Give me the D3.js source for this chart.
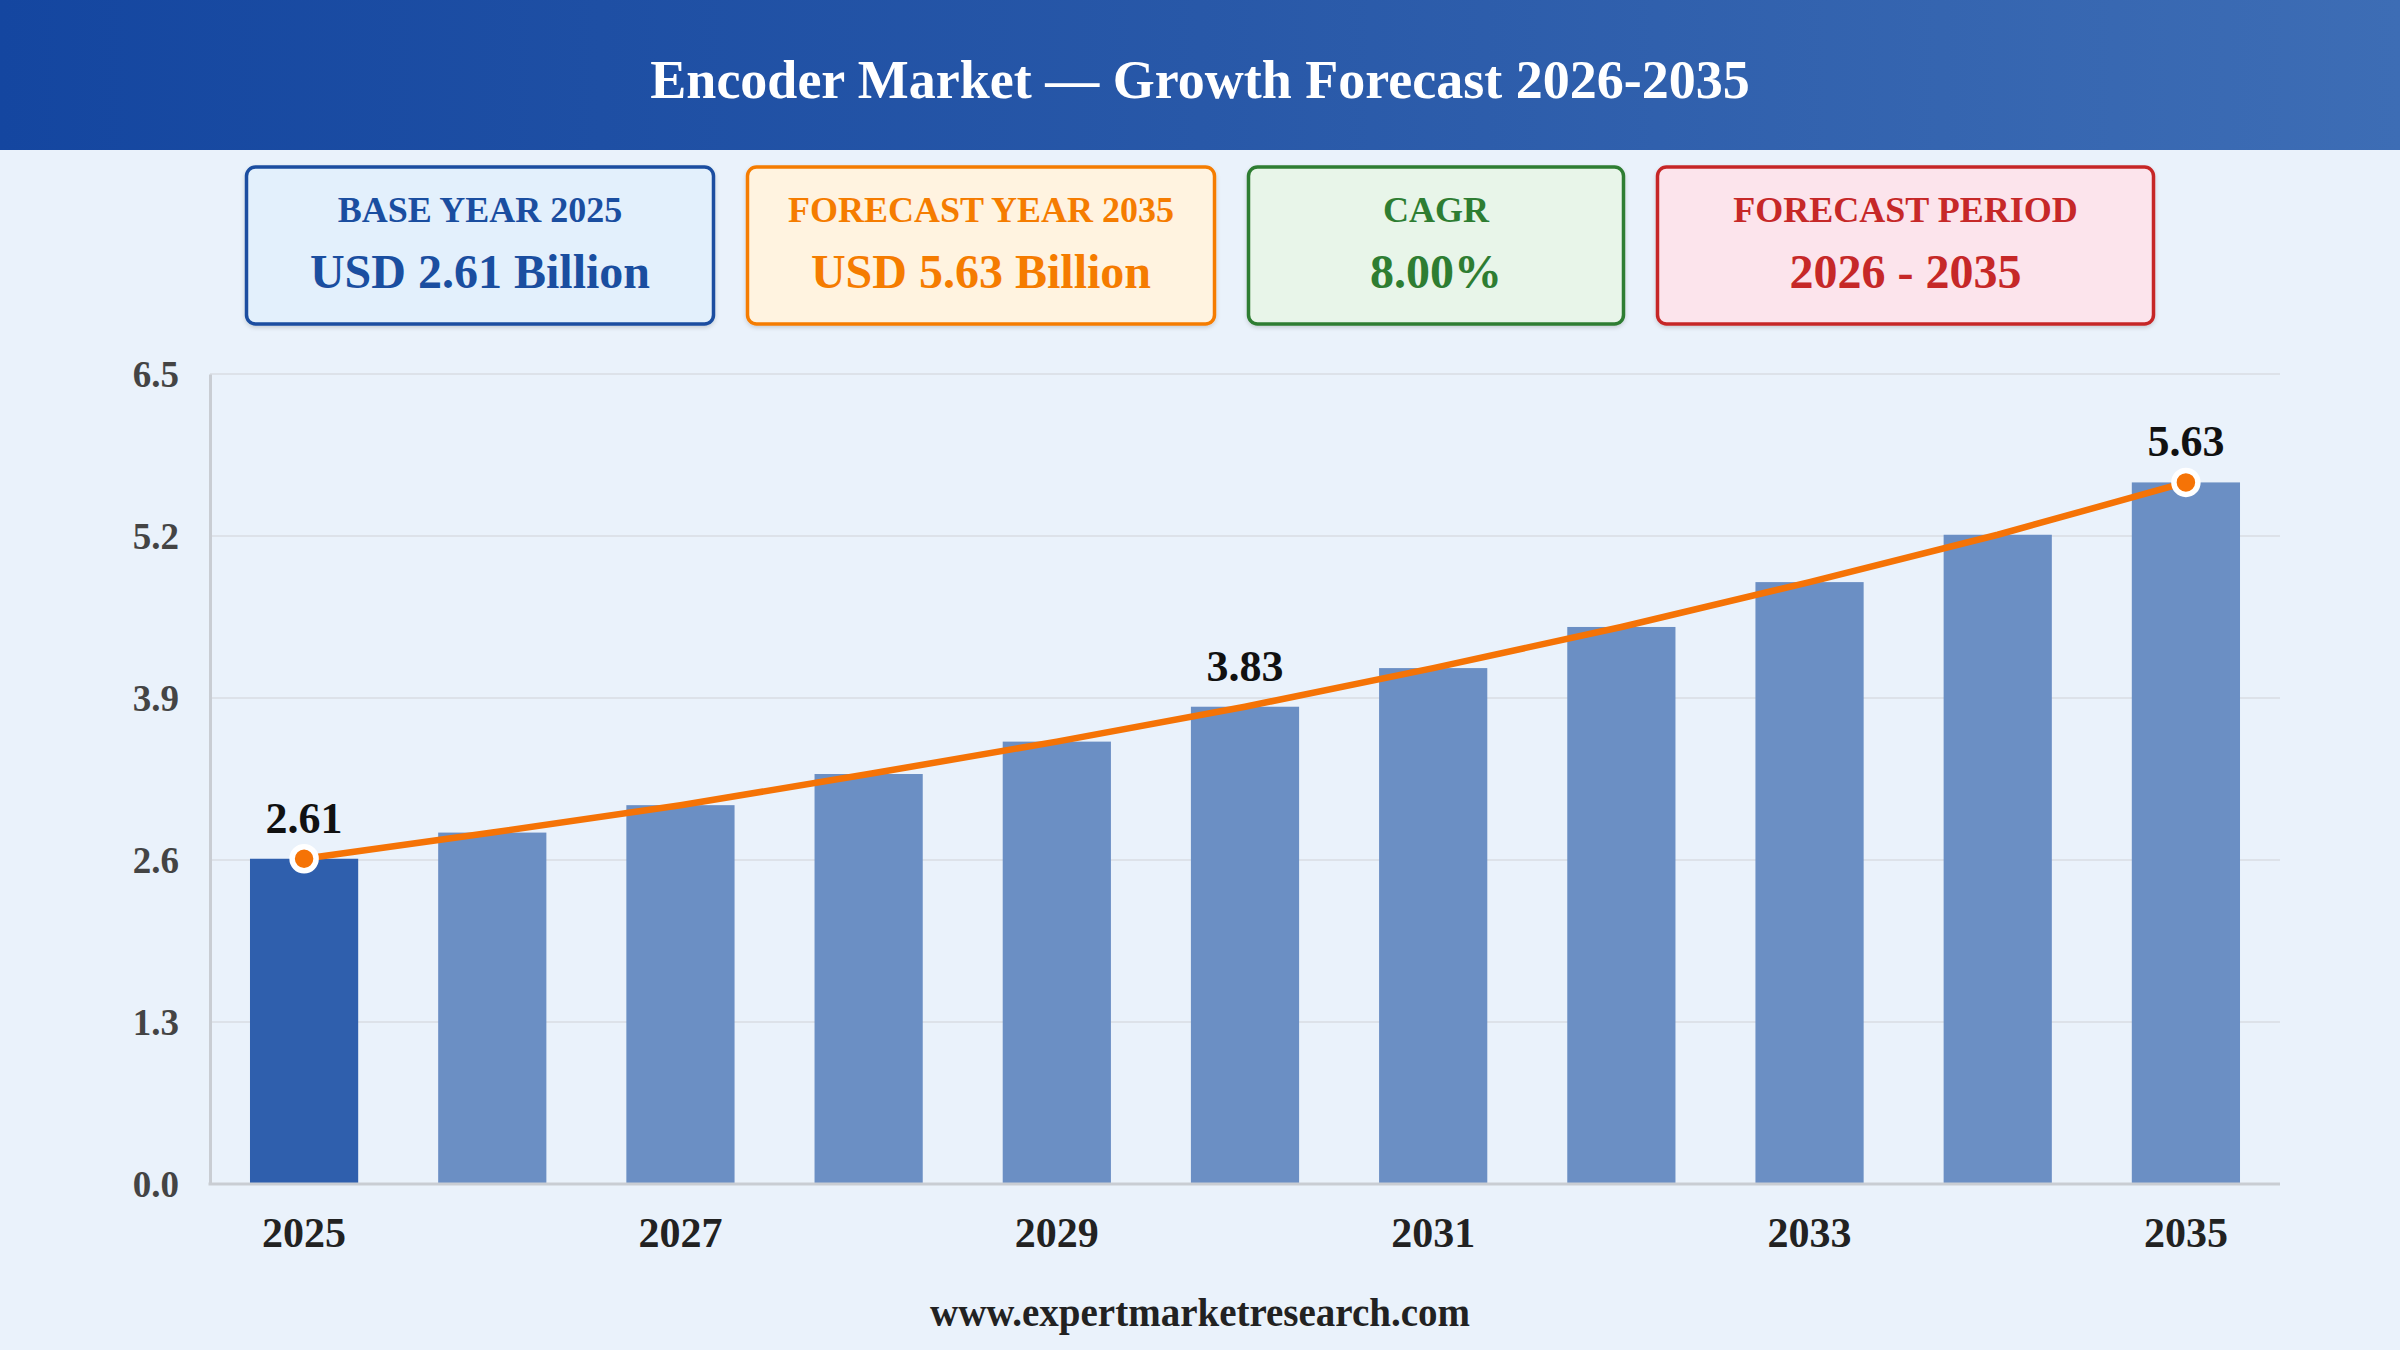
<!DOCTYPE html>
<html>
<head>
<meta charset="utf-8">
<script src="https://cdn.jsdelivr.net/npm/d3@7"></script>
<style>
html,body{margin:0;padding:0;background:#eaf2fb;}
svg{display:block;}
text{font-family:"Liberation Serif","Times New Roman",serif;font-weight:bold;}
</style>
</head>
<body>
<svg id="chart" width="2400" height="1350"></svg>
<script>
// ---- data ----
const title = "Encoder Market \u2014 Growth Forecast 2026-2035";
const years = [2025, 2026, 2027, 2028, 2029, 2030, 2031, 2032, 2033, 2034, 2035];
const values = [2.61, 2.82, 3.04, 3.29, 3.55, 3.83, 4.14, 4.47, 4.83, 5.21, 5.63];
const yTicks = [0, 1.3, 2.6, 3.9, 5.2, 6.5];
const xTickLabels = [2025, 2027, 2029, 2031, 2033, 2035];
const labeledYears = [2025, 2030, 2035];
const markerYears = [2025, 2035];
const highlightYear = 2025;
const cardLabels = ["BASE YEAR 2025", "FORECAST YEAR 2035", "CAGR", "FORECAST PERIOD"];
const cardValues = ["USD 2.61 Billion", "USD 5.63 Billion", "8.00%", "2026 - 2035"];
const footer = "www.expertmarketresearch.com";

// ---- styles ----
const cardStyles = [
  {w: 467, stroke: "#1a4ea0", fill: "#e3f0fc", color: "#1a4ea0"},
  {w: 467, stroke: "#f57c00", fill: "#fff3e0", color: "#f57c00"},
  {w: 375, stroke: "#2e7d32", fill: "#e8f5e9", color: "#2e7d32"},
  {w: 496, stroke: "#c62828", fill: "#fce4ec", color: "#c62828"}
];

const W = 2400, H = 1350;
const svg = d3.select("#chart");

const defs = svg.append("defs");
const grad = defs.append("linearGradient").attr("id", "hdr").attr("x1", "0%").attr("x2", "100%");
grad.append("stop").attr("offset", "0%").attr("stop-color", "#1446a0");
grad.append("stop").attr("offset", "50%").attr("stop-color", "#2858a8");
grad.append("stop").attr("offset", "100%").attr("stop-color", "#3d6db5");
const sh = defs.append("filter").attr("id", "shadow").attr("x", "-10%").attr("y", "-10%").attr("width", "120%").attr("height", "130%");
sh.append("feDropShadow").attr("dx", 0).attr("dy", 2).attr("stdDeviation", 2).attr("flood-color", "#000").attr("flood-opacity", 0.15);

svg.append("rect").attr("width", W).attr("height", H).attr("fill", "#eaf2fb");

// header
svg.append("rect").attr("x", 0).attr("y", 0).attr("width", W).attr("height", 150).attr("fill", "url(#hdr)");
svg.append("text").attr("x", W / 2).attr("y", 98).attr("text-anchor", "middle")
  .attr("fill", "#ffffff").attr("font-size", 54).text(title);

// cards
const gap = 34;
const totalW = d3.sum(cardStyles, d => d.w) + gap * (cardStyles.length - 1);
let cx = (W - totalW) / 2;
cardLabels.forEach((lab, i) => {
  const s = cardStyles[i];
  const g = svg.append("g").attr("transform", `translate(${cx},167)`);
  g.append("rect").attr("x", 0).attr("y", 0).attr("width", s.w).attr("height", 157)
    .attr("rx", 9).attr("fill", s.fill).attr("stroke", s.stroke).attr("stroke-width", 3.5)
    .attr("filter", "url(#shadow)");
  g.append("text").attr("x", s.w / 2).attr("y", 55).attr("text-anchor", "middle")
    .attr("fill", s.color).attr("font-size", 36).text(lab);
  g.append("text").attr("x", s.w / 2).attr("y", 121).attr("text-anchor", "middle")
    .attr("fill", s.color).attr("font-size", 48).text(cardValues[i]);
  cx += s.w + gap;
});

// chart
const plot = {left: 210, right: 2280, top: 374, bottom: 1184};
const x = d3.scaleBand().domain(years).range([plot.left, plot.right])
  .paddingInner(0.425).paddingOuter(0.2125);
const y = d3.scaleLinear().domain([0, 6.5]).range([plot.bottom, plot.top]);

// grid
svg.append("g").selectAll("line").data(yTicks.filter(t => t > 0)).join("line")
  .attr("x1", plot.left).attr("x2", plot.right)
  .attr("y1", d => y(d)).attr("y2", d => y(d))
  .attr("stroke", "#dde2e9").attr("stroke-width", 2);

// y axis
const yAxis = d3.axisLeft(y).tickValues(yTicks).tickFormat(d3.format(".1f")).tickSize(0).tickPadding(31);
const gy = svg.append("g").attr("transform", `translate(${plot.left},0)`).call(yAxis);
gy.select(".domain").attr("stroke", "#c9cdd3").attr("stroke-width", 3);
gy.selectAll("text").attr("font-family", "Liberation Serif, serif").attr("font-weight", "bold")
  .attr("font-size", 37).attr("fill", "#444444").attr("dy", "0.35em");

// bars
svg.append("g").selectAll("rect").data(years).join("rect")
  .attr("x", d => x(d)).attr("width", x.bandwidth())
  .attr("y", (d, i) => y(values[i])).attr("height", (d, i) => y(0) - y(values[i]))
  .attr("fill", d => d === highlightYear ? "#2f5fad" : "#6b8fc4");

// x axis
const xAxis = d3.axisBottom(x).tickValues(xTickLabels).tickSize(0).tickPadding(33);
const gx = svg.append("g").attr("transform", `translate(0,${plot.bottom})`).call(xAxis);
gx.select(".domain").remove();
svg.append("line").attr("x1", plot.left - 1.5).attr("x2", plot.right)
  .attr("y1", plot.bottom).attr("y2", plot.bottom)
  .attr("stroke", "#c9cdd3").attr("stroke-width", 3);
gx.selectAll("text").attr("font-family", "Liberation Serif, serif").attr("font-weight", "bold")
  .attr("font-size", 42).attr("fill", "#222222");

// line
const cxOf = d => x(d) + x.bandwidth() / 2;
const line = d3.line().x(d => cxOf(d[0])).y(d => y(d[1]));
const pts = years.map((yr, i) => [yr, values[i]]);
svg.append("path").datum(pts).attr("d", line).attr("fill", "none")
  .attr("stroke", "#f57306").attr("stroke-width", 6.5).attr("stroke-linejoin", "round").attr("stroke-linecap", "round");

// markers
svg.append("g").selectAll("circle").data(pts.filter(p => markerYears.includes(p[0]))).join("circle")
  .attr("cx", d => cxOf(d[0])).attr("cy", d => y(d[1])).attr("r", 12)
  .attr("fill", "#f57306").attr("stroke", "#ffffff").attr("stroke-width", 5.5);

// value labels
svg.append("g").selectAll("text").data(pts.filter(p => labeledYears.includes(p[0]))).join("text")
  .attr("x", d => cxOf(d[0])).attr("y", d => y(d[1]) - 26).attr("text-anchor", "middle")
  .attr("font-size", 44).attr("fill", "#111111").text(d => d3.format(".2f")(d[1]));

// footer
svg.append("text").attr("x", W / 2).attr("y", 1326).attr("text-anchor", "middle")
  .attr("font-size", 39).attr("fill", "#222222").text(footer);
</script>
</body>
</html>
